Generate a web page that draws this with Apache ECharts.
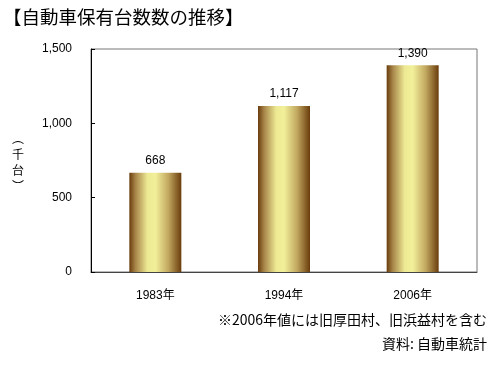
<!DOCTYPE html>
<html><head><meta charset="utf-8">
<script src="https://cdn.jsdelivr.net/npm/echarts@6/dist/echarts.min.js"></script>
<style>html,body{margin:0;padding:0;background:#fff}#c{width:500px;height:366px}</style>
</head><body><div id="c"></div>
<script>
const titleText = '【自動車保有台数数の推移】';
const categories = ['1983年', '1994年', '2006年'];
const values = [668, 1117, 1390];
const yTicks = [0, 500, 1000, 1500];
const unitText = '︵\n千\n台\n︶';
const noteText = '※2006年値には旧厚田村、旧浜益村を含む';
const sourceText = '資料: 自動車統計';

const FONT = '"Liberation Sans", "Noto Sans CJK JP", sans-serif';
const JFONT = '"Noto Sans CJK JP", sans-serif';
const chart = echarts.init(document.getElementById('c'), null, {renderer: 'canvas'});
const barGrad = new echarts.graphic.LinearGradient(0, 0, 1, 0, [
  {offset: 0, color: '#6a3c0c'},
  {offset: 0.12, color: '#a8864a'},
  {offset: 0.35, color: '#eeea94'},
  {offset: 0.5, color: '#f2f09a'},
  {offset: 0.75, color: '#c2a860'},
  {offset: 1, color: '#6a3c0c'}
]);
chart.setOption({
  animation: false,
  textStyle: {fontFamily: FONT},
  grid: {left: 91, top: 49, right: 23, bottom: 94, show: true, borderColor: '#777', borderWidth: 1, backgroundColor: 'transparent'},
  graphic: [
    {type: 'text', left: 3, top: 8, style: {text: titleText, font: '18.5px ' + JFONT, fill: '#000'}},
    {type: 'text', left: 12, top: 130, style: {text: unitText, font: '12px ' + JFONT, fill: '#000', lineHeight: 16, align: 'center'}},
    {type: 'text', right: 13, top: 313, style: {text: noteText, font: '14px ' + JFONT, fill: '#000'}},
    {type: 'text', right: 13, top: 337, style: {text: sourceText, font: '14px ' + JFONT, fill: '#000'}}
  ],
  xAxis: {
    type: 'category', data: categories,
    axisLine: {lineStyle: {color: '#444', width: 1}},
    axisTick: {inside: true, length: 5, lineStyle: {color: '#444'}},
    axisLabel: {color: '#000', fontSize: 12, margin: 18, fontFamily: FONT}
  },
  yAxis: {
    type: 'value', min: yTicks[0], max: yTicks[yTicks.length - 1], interval: 500,
    splitLine: {show: false},
    axisLine: {show: true, lineStyle: {color: '#000', width: 1}},
    axisTick: {show: true, inside: true, length: 4, lineStyle: {color: '#000'}},
    axisLabel: {color: '#000', fontSize: 12, margin: 19,
      formatter: v => v.toLocaleString('en-US')}
  },
  series: [{
    type: 'bar', data: values, barWidth: 52,
    itemStyle: {color: barGrad},
    label: {show: true, position: 'top', distance: 6, color: '#000', fontSize: 12,
      formatter: p => p.value.toLocaleString('en-US')}
  }]
});
</script></body></html>
